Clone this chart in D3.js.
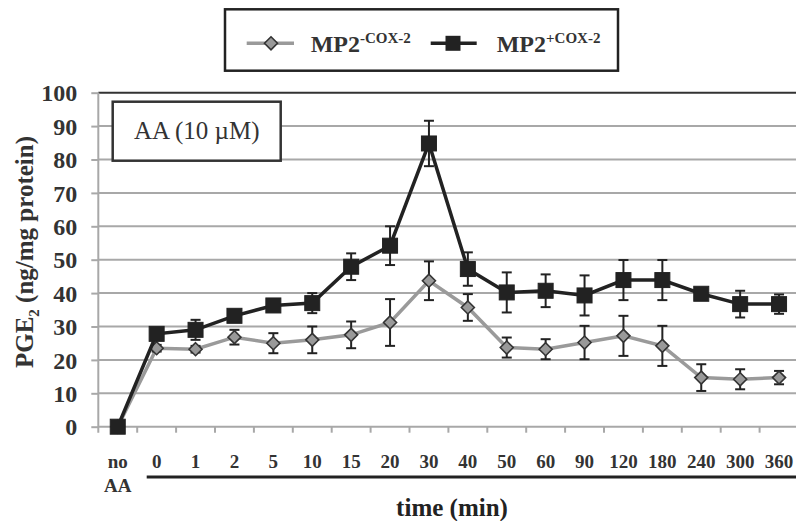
<!DOCTYPE html>
<html>
<head>
<meta charset="utf-8">
<script src="https://cdn.jsdelivr.net/npm/d3@7"></script>
<style>
  body { margin: 0; background: #fff; }
  svg { display: block; font-family: "Liberation Serif", "Times New Roman", serif; }
</style>
</head>
<body>
<svg id="chart" width="796" height="521"></svg>
<script>
// categories on the x axis
const categories = ["no AA", "0", "1", "2", "5", "10", "15", "20", "30", "40", "50", "60", "90", "120", "180", "240", "300", "360"];

// MP2 -COX-2 (grey diamonds)
const negMean = [0, 23.5, 23.2, 26.8, 25, 26, 27.5, 31.2, 43.7, 35.7, 23.7, 23.2, 25.2, 27.2, 24.2, 14.7, 14.2, 14.7];
const negErr  = [0, 1, 1, 2.2, 3, 4, 4, 7, 5.8, 4, 3, 3, 5, 6, 6, 4, 3, 2];

// MP2 +COX-2 (black squares)
const posMean = [0, 27.8, 29, 33.2, 36.3, 37, 47.9, 54.2, 84.8, 47.2, 40.2, 40.7, 39.3, 43.9, 43.9, 39.8, 36.7, 36.7];
const posErr  = [0, 1, 3, 1, 1.5, 3, 4, 5.8, 6.8, 5, 6, 4.9, 6, 6, 6, 1, 4, 2.9];

const yTicks = d3.range(0, 101, 10);

const svg = d3.select("#chart");
const plotLeft = 98.3, plotRight = 798.5, plotTop = 92.7, plotBottom = 426.7;

const x = d3.scaleBand().domain(categories).range([plotLeft, plotRight]).padding(0);
const y = d3.scaleLinear().domain([0, 100]).range([plotBottom, plotTop]);
const cx = d => x(d) + x.bandwidth() / 2;

// gridlines
svg.append("g")
  .selectAll("line")
  .data(yTicks)
  .join("line")
  .attr("x1", plotLeft).attr("x2", 796)
  .attr("y1", d => y(d)).attr("y2", d => y(d))
  .attr("stroke", d => d === 100 ? "#333" : "#a8a8a8")
  .attr("stroke-width", 2);

// y axis
const yAxis = svg.append("g")
  .attr("transform", `translate(${plotLeft},0)`)
  .call(d3.axisLeft(y).tickValues(yTicks).tickSize(7).tickPadding(14));
yAxis.select(".domain").remove();
yAxis.selectAll(".tick line").attr("stroke", "#a8a8a8").attr("stroke-width", 2);
yAxis.selectAll(".tick text")
  .attr("font-family", "Liberation Serif").attr("font-weight", "bold")
  .attr("font-size", 24).attr("fill", "#333").attr("dy", "0.34em");
svg.append("line")
  .attr("x1", plotLeft).attr("x2", plotLeft).attr("y1", plotTop).attr("y2", plotBottom + 6)
  .attr("stroke", "#a8a8a8").attr("stroke-width", 2);

// x axis ticks at band boundaries
svg.append("g")
  .selectAll("line")
  .data(categories.slice(1))
  .join("line")
  .attr("x1", d => x(d)).attr("x2", d => x(d))
  .attr("y1", plotBottom).attr("y2", plotBottom + 6)
  .attr("stroke", "#a8a8a8").attr("stroke-width", 2);

// x labels
const xl = svg.append("g")
  .selectAll("text")
  .data(categories)
  .join("text")
  .attr("x", cx)
  .attr("y", 468)
  .attr("text-anchor", "middle")
  .attr("font-weight", "bold")
  .attr("font-size", 19)
  .attr("fill", "#333");
xl.filter(d => d !== "no AA").text(d => d);
xl.filter(d => d === "no AA").each(function () {
  const t = d3.select(this);
  t.append("tspan").attr("x", cx("no AA")).text("no");
  t.append("tspan").attr("x", cx("no AA")).attr("dy", 24).text("AA");
});

svg.append("line")
  .attr("x1", 146.7).attr("x2", 796).attr("y1", 477).attr("y2", 477)
  .attr("stroke", "#222").attr("stroke-width", 3);

svg.append("text")
  .attr("x", 452).attr("y", 516)
  .attr("text-anchor", "middle")
  .attr("font-weight", "bold").attr("font-size", 25).attr("fill", "#222")
  .text("time (min)");

// y title
const yt = svg.append("text")
  .attr("transform", "translate(33,252) rotate(-90)")
  .attr("text-anchor", "middle")
  .attr("font-weight", "bold").attr("font-size", 25).attr("fill", "#333");
yt.append("tspan").text("PGE");
yt.append("tspan").attr("font-size", 15).attr("dy", 6).text("2");
yt.append("tspan").attr("dy", -6).text(" (ng/mg protein)");

// AA box
svg.append("rect")
  .attr("x", 112.7).attr("y", 101.7).attr("width", 168).attr("height", 59)
  .attr("fill", "#fff").attr("stroke", "#333").attr("stroke-width", 2.5);
svg.append("text")
  .attr("x", 196.7).attr("y", 139)
  .attr("text-anchor", "middle").attr("font-size", 25).attr("fill", "#333")
  .text("AA (10 µM)");

// series
const series = [
  { mean: negMean, err: negErr, line: "#9a9a9a", shape: "diamond" },
  { mean: posMean, err: posErr, line: "#222", shape: "square" }
];

series.forEach(s => {
  const pts = categories.map((c, i) => ({ c, v: s.mean[i], e: s.err[i] }));
  const g = svg.append("g");
  g.append("path")
    .datum(pts)
    .attr("d", d3.line().x(d => cx(d.c)).y(d => y(d.v)))
    .attr("fill", "none").attr("stroke", s.line).attr("stroke-width", 3.5);

  const eb = g.selectAll("g.err").data(pts.filter(d => d.e > 0)).join("g");
  eb.append("line")
    .attr("x1", d => cx(d.c)).attr("x2", d => cx(d.c))
    .attr("y1", d => y(d.v + d.e)).attr("y2", d => y(d.v - d.e));
  eb.append("line")
    .attr("x1", d => cx(d.c) - 5).attr("x2", d => cx(d.c) + 5)
    .attr("y1", d => y(d.v + d.e)).attr("y2", d => y(d.v + d.e));
  eb.append("line")
    .attr("x1", d => cx(d.c) - 5).attr("x2", d => cx(d.c) + 5)
    .attr("y1", d => y(d.v - d.e)).attr("y2", d => y(d.v - d.e));
  eb.selectAll("line").attr("stroke", "#222").attr("stroke-width", 2);

  if (s.shape === "square") {
    g.selectAll("rect").data(pts).join("rect")
      .attr("x", d => cx(d.c) - 7.5).attr("y", d => y(d.v) - 7.5)
      .attr("width", 15).attr("height", 15)
      .attr("fill", "#222").attr("stroke", "#222");
  } else {
    g.selectAll("path.m").data(pts).join("path")
      .attr("class", "m")
      .attr("transform", d => `translate(${cx(d.c)},${y(d.v)})`)
      .attr("d", "M0,-6.5L6.5,0L0,6.5L-6.5,0Z")
      .attr("fill", "#999").attr("stroke", "#333").attr("stroke-width", 1.6);
  }
});

// legend
const lg = svg.append("g");
lg.append("rect")
  .attr("x", 225).attr("y", 9.3).attr("width", 393).attr("height", 61.4)
  .attr("fill", "#fff").attr("stroke", "#222").attr("stroke-width", 2.5);
lg.append("line").attr("x1", 246.7).attr("x2", 294).attr("y1", 43.3).attr("y2", 43.3)
  .attr("stroke", "#9a9a9a").attr("stroke-width", 3.5);
lg.append("path").attr("transform", "translate(271,43.3)")
  .attr("d", "M0,-6.5L6.5,0L0,6.5L-6.5,0Z")
  .attr("fill", "#999").attr("stroke", "#333").attr("stroke-width", 1.6);
lg.append("line").attr("x1", 430.7).attr("x2", 476.7).attr("y1", 43.3).attr("y2", 43.3)
  .attr("stroke", "#222").attr("stroke-width", 3.5);
lg.append("rect").attr("x", 445.5).attr("y", 35.8).attr("width", 15).attr("height", 15)
  .attr("fill", "#222");

const legendText = [
  { x: 310.7, sup: "-COX-2" },
  { x: 496.7, sup: "+COX-2" }
];
legendText.forEach(t => {
  const tx = lg.append("text").attr("x", t.x).attr("y", 52)
    .attr("font-weight", "bold").attr("font-size", 24).attr("fill", "#333");
  tx.append("tspan").text("MP2");
  tx.append("tspan").attr("font-size", 15).attr("dy", -9).text(t.sup);
});
</script>
</body>
</html>
